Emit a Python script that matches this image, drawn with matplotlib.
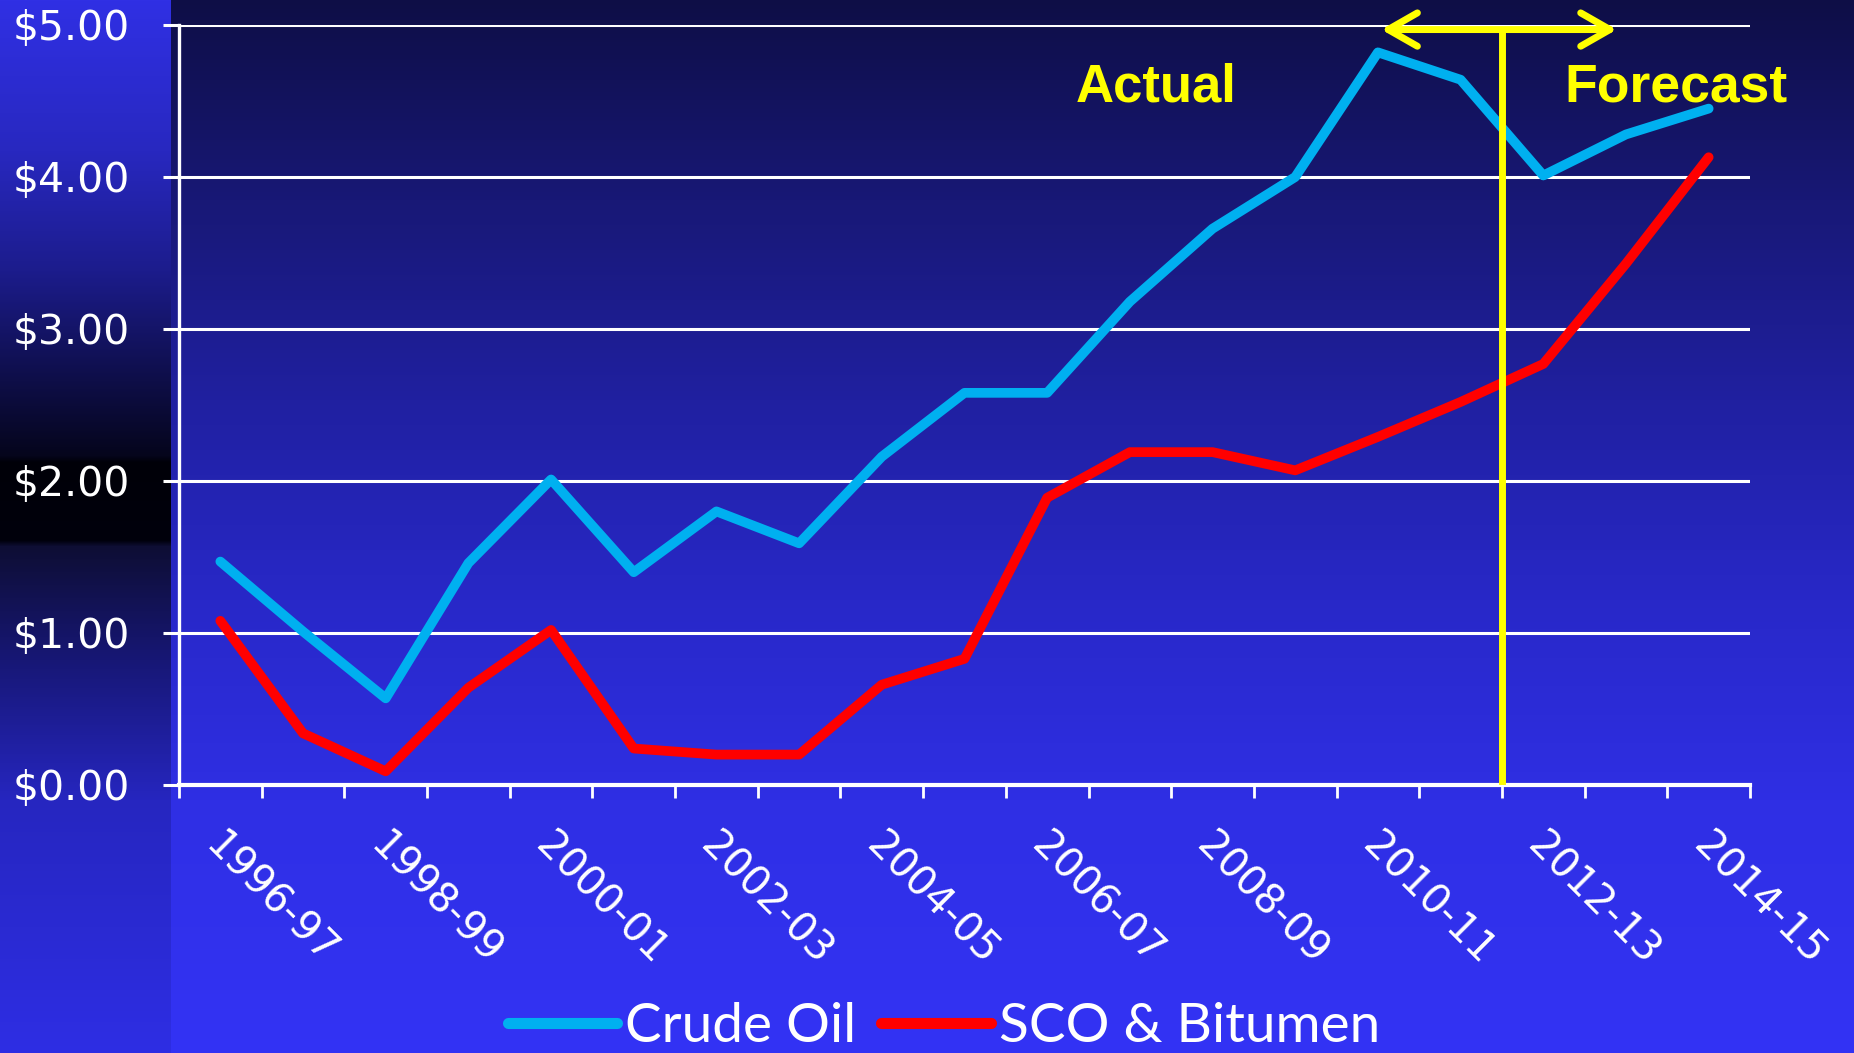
import numpy as np
import matplotlib
matplotlib.use("Agg")
import matplotlib.pyplot as plt
import matplotlib.transforms as mtransforms

# Fiscal years on the x axis
years = ["1996-97", "1997-98", "1998-99", "1999-00", "2000-01", "2001-02",
         "2002-03", "2003-04", "2004-05", "2005-06", "2006-07", "2007-08",
         "2008-09", "2009-10", "2010-11", "2011-12", "2012-13", "2013-14",
         "2014-15"]

# Values ($ billions)
crude_oil = [1.47, 1.01, 0.57, 1.46, 2.01, 1.40, 1.80, 1.59, 2.16, 2.58,
             2.58, 3.18, 3.66, 4.00, 4.82, 4.64, 4.01, 4.28, 4.45]
sco_bitumen = [1.08, 0.34, 0.09, 0.64, 1.02, 0.24, 0.20, 0.20, 0.66, 0.83,
               1.89, 2.19, 2.19, 2.07, 2.29, 2.52, 2.77, 3.43, 4.13]

y_ticks = [0, 1, 2, 3, 4, 5]
y_tick_labels = ["$0.00", "$1.00", "$2.00", "$3.00", "$4.00", "$5.00"]

# first forecast year
forecast_start = years.index("2012-13")

W, H = 1854, 1053
fig = plt.figure(figsize=(W / 100, H / 100), dpi=100)


def gradient(stops, n):
    pos = [s[0] for s in stops]
    cols = np.array([s[1] for s in stops], dtype=float)
    y = np.arange(n)
    return np.stack([np.interp(y, pos, cols[:, k]) for k in range(3)], axis=1)


# Slide background: dark strip on the left, navy->blue gradient elsewhere
left_strip = gradient([(0, (48, 48, 228)), (150, (40, 40, 192)), (270, (28, 28, 140)),
                       (380, (14, 14, 72)), (455, (5, 5, 28)), (462, (0, 0, 8)),
                       (540, (0, 0, 12)), (546, (14, 14, 52)), (650, (22, 22, 112)),
                       (800, (38, 38, 192)), (H, (46, 46, 228))], H)
main_bg = gradient([(0, (14, 14, 70)), (200, (24, 24, 118)), (400, (32, 32, 160)),
                    (600, (40, 40, 200)), (800, (47, 47, 228)), (H, (51, 51, 245))], H)
img = np.repeat(main_bg[:, None, :], W, axis=1)
img[:, :171, :] = left_strip[:, None, :]
bg = fig.add_axes([0, 0, 1, 1], zorder=0)
bg.imshow(img.astype(np.uint8), aspect="auto", interpolation="bilinear")
bg.axis("off")

ax = fig.add_axes([179 / W, 1 - 785 / H, (1750 - 179) / W, (785 - 25) / H], zorder=1)
ax.set_facecolor("none")

x = np.arange(len(years))
ax.plot(x, crude_oil, color="#00B0F0", lw=7, solid_capstyle="round",
        solid_joinstyle="round", clip_on=False, zorder=3, label="Crude Oil")
ax.plot(x, sco_bitumen, color="#FF0000", lw=7, solid_capstyle="round",
        solid_joinstyle="round", clip_on=False, zorder=3, label="SCO & Bitumen")

ax.set_xlim(-0.5, len(years) - 0.5)
ax.set_ylim(0, 5)

# y axis
ax.set_yticks(y_ticks)
ax.set_yticklabels(y_tick_labels, fontsize=29.5, color="white", family="DejaVu Sans")
ax.tick_params(axis="y", length=11.5, width=2.2, color="white", pad=24)
ax.grid(axis="y", color="white", lw=2.2, zorder=1)
ax.set_axisbelow(True)

# x axis: ticks on category boundaries, labels every other year
ax.set_xticks(x[::2])
ax.set_xticklabels(years[::2], fontsize=29, color="white", family="DejaVu Sans",
                   rotation=-45, ha="left", va="top", rotation_mode="anchor")
ax.set_xticks(np.arange(len(years) + 1) - 0.5, minor=True)
ax.tick_params(axis="x", which="major", length=0, pad=29)
ax.tick_params(axis="x", which="minor", length=9.5, width=2.0, color="white")
offset = mtransforms.ScaledTranslation(3 / 72, 0, fig.dpi_scale_trans)
for lab in ax.get_xticklabels():
    lab.set_transform(lab.get_transform() + offset)

for side in ["top", "right"]:
    ax.spines[side].set_visible(False)
ax.spines["left"].set_color("white")
ax.spines["left"].set_linewidth(2.4)
ax.spines["bottom"].set_color("white")
ax.spines["bottom"].set_linewidth(3)

# Actual / Forecast divider
divider = forecast_start - 0.5
ax.axvline(divider, ymin=0.005, ymax=0.994, color="#FFFF00", lw=5, zorder=4)
ax.annotate("", xy=(divider + 1.39, 4.97), xytext=(divider - 1.46, 4.97),
            arrowprops=dict(arrowstyle="<->,head_length=0.42,head_width=0.24",
                            color="#FFFF00", lw=5, mutation_scale=50,
                            shrinkA=0, shrinkB=0, capstyle="round"),
            annotation_clip=False, zorder=4)
ax.text(10.35, 4.50, "Actual", color="#FFFF00", fontsize=38, fontweight="bold",
        family="Liberation Sans", va="baseline", ha="left")
ax.text(16.25, 4.50, "Forecast", color="#FFFF00", fontsize=38.5, fontweight="bold",
        family="Liberation Sans", va="baseline", ha="left")

leg = fig.legend(loc="center", bbox_to_anchor=(944 / W, 1 - 1027 / H), ncol=2,
                 frameon=False, prop={"family": "Lato", "size": 39.5},
                 handlelength=2.0, handletextpad=0.15, columnspacing=0.45,
                 borderpad=0, borderaxespad=0)
for t in leg.get_texts():
    t.set_color("white")
for h in leg.legend_handles:
    h.set_linewidth(8)
    h.set_solid_capstyle("round")

fig.savefig("out.png", dpi=100)
